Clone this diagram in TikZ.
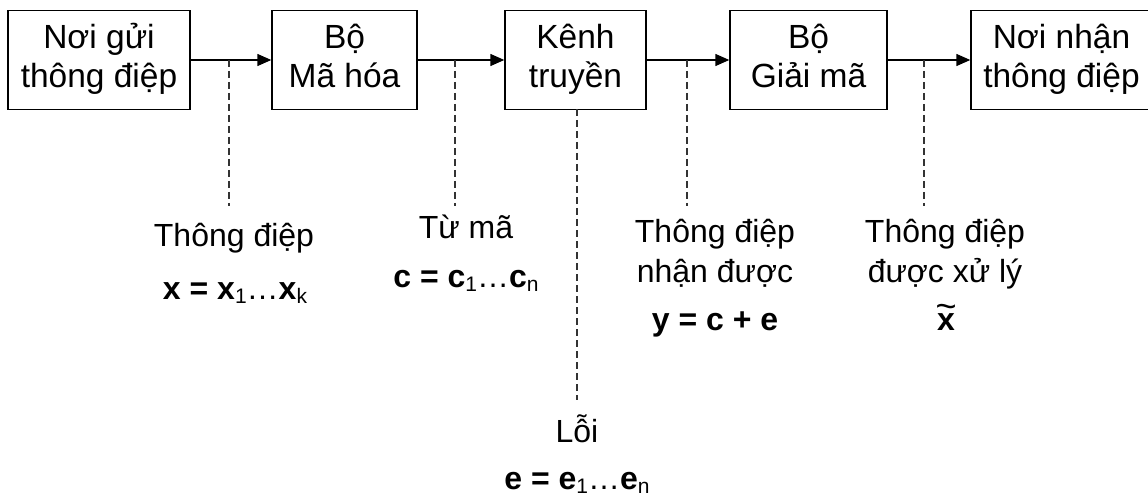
\documentclass[tikz,border=0pt]{standalone}
\usepackage{fontspec}
\setmainfont{Liberation Sans}
\usetikzlibrary{arrows.meta}
\newcommand\sbs[1]{\raisebox{-0.15em}{\fontsize{21}{21}\selectfont\mdseries #1}}
\newcommand\dts{{\mdseries …}}
\newcommand\tops{\rule{0pt}{30pt}}
\newcommand\bots{\rule[-13pt]{0pt}{13pt}}
\newcommand\xtil{\ooalign{x\cr\hidewidth\raisebox{12pt}{\mdseries\fontsize{36}{36}\selectfont\textasciitilde}\hidewidth\cr}}
\tikzset{
  blk/.style={draw, line width=1.4pt, align=center, inner sep=0pt,
    font=\fontsize{33.5}{39}\selectfont, minimum height=99pt},
  arr/.style={line width=1.4pt, -{Triangle[length=14pt,width=12pt]}},
  dsh/.style={line width=1.4pt, black!80, dash pattern=on 7pt off 4pt},
  lbl/.style={inner sep=0pt, anchor=base, font=\fontsize{32}{39}\selectfont},
  frm/.style={inner sep=0pt, anchor=base, font=\fontsize{32}{39}\selectfont\bfseries},
}
\begin{document}
\begin{tikzpicture}[x=1pt,y=-1pt]
\useasboundingbox (0,0) rectangle (1148,497);
% boxes
\node[blk, minimum width=182pt] (b1) at (99,60) {\tops Nơi gửi\\thông điệp\bots};
\node[blk, minimum width=145pt] (b2) at (344.5,60) {\tops Bộ\\Mã hóa\bots};
\node[blk, minimum width=141pt] (b3) at (575.5,60) {\tops Kênh\\truyền\bots};
\node[blk, minimum width=157pt] (b4) at (808.5,60) {\tops Bộ\\Giải mã\bots};
\node[blk, minimum width=181pt] (b5) at (1061.5,60) {\tops Nơi nhận\\thông điệp\bots};
% arrows
\draw[arr] (b1.east) -- (b2.west);
\draw[arr] (b2.east) -- (b3.west);
\draw[arr] (b3.east) -- (b4.west);
\draw[arr] (b4.east) -- (b5.west);
% dashed taps
\coordinate (t1) at (229,60);  \coordinate (e1) at (229,206);
\coordinate (t2) at (455,60);  \coordinate (e2) at (455,206);
\coordinate (t4) at (687,60);  \coordinate (e4) at (687,206);
\coordinate (t5) at (924,60);  \coordinate (e5) at (924,206);
\coordinate (t3) at (577,109); \coordinate (e3) at (577,400);
\draw[dsh] (t1) -- (e1);
\draw[dsh] (t2) -- (e2);
\draw[dsh] (t4) -- (e4);
\draw[dsh] (t5) -- (e5);
\draw[dsh] (t3) -- (e3);
% labels
\node[lbl] (l1a) at (234,246) {Thông điệp};
\node[frm] (l1b) at (235,299) {x = x\sbs{1}\dts x\sbs{k}};
\node[lbl] (l2a) at (466,238) {Từ mã};
\node[frm] (l2b) at (466,287) {c = c\sbs{1}\dts c\sbs{n}};
\node[lbl] (l4a) at (715,242) {Thông điệp};
\node[lbl] (l4b) at (715,282) {nhận được};
\node[frm] (l4c) at (715,330) {y = c + e};
\node[lbl] (l5a) at (945,242) {Thông điệp};
\node[lbl] (l5b) at (945,282) {được xử lý};
\node[frm] (l5c) at (946,330) {\xtil};
\node[lbl] (l3a) at (577,442) {Lỗi};
\node[frm] (l3b) at (577,489) {e = e\sbs{1}\dts e\sbs{n}};
\end{tikzpicture}
\end{document}
